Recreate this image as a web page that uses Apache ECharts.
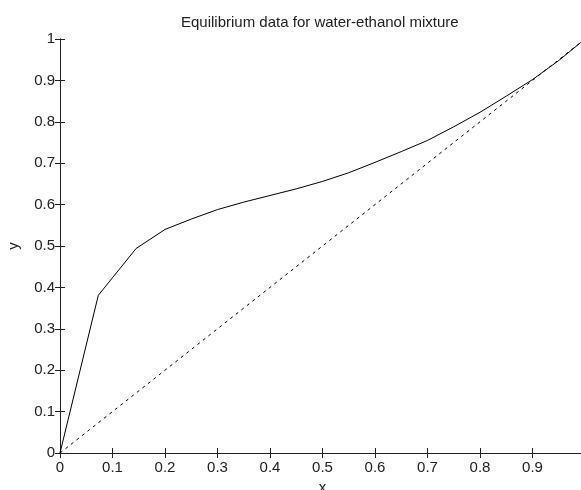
<!DOCTYPE html>
<html>
<head>
<meta charset="utf-8">
<script src="https://cdn.jsdelivr.net/npm/echarts@6/dist/echarts.min.js"></script>
<style>
  html, body { margin: 0; padding: 0; background: #fff; }
  #chart { width: 581px; height: 490px; }
</style>
</head>
<body>
<div id="chart"></div>
<script>
// liquid mole fraction x / vapour mole fraction y
var xLiquid = [0, 0.073, 0.145, 0.2, 0.25, 0.3, 0.35, 0.4, 0.45, 0.5, 0.55, 0.6, 0.65, 0.7, 0.75, 0.8, 0.85, 0.9, 0.95, 1];
var yVapour = [0, 0.381, 0.494, 0.54, 0.565, 0.588, 0.606, 0.622, 0.638, 0.656, 0.677, 0.702, 0.728, 0.755, 0.788, 0.823, 0.862, 0.902, 0.948, 1];
// 45 degree reference line
var diagX = [0, 1];
var diagY = [0, 1];
var xTicks = [0, 0.1, 0.2, 0.3, 0.4, 0.5, 0.6, 0.7, 0.8, 0.9, 1];
var yTicks = [0, 0.1, 0.2, 0.3, 0.4, 0.5, 0.6, 0.7, 0.8, 0.9, 1];

function pairs(xs, ys) {
    return xs.map(function (v, i) { return [v, ys[i]]; });
}

var labelFont = { fontFamily: 'Liberation Sans, Arial, sans-serif', fontSize: 15, color: '#222' };
var lineCol = '#222';

var myChart = echarts.init(document.getElementById('chart'));
var option = {
    animation: false,
    backgroundColor: '#fff',
    title: {
        text: 'Equilibrium data for water-ethanol mixture',
        left: 176,
        top: 10,
        textStyle: { fontFamily: 'Liberation Sans, Arial, sans-serif', fontSize: 15, fontWeight: 'normal', color: '#222' }
    },
    // plot box runs a little past the right edge, like the reference
    grid: { left: 60, top: 39, width: 525, height: 414, containLabel: false, outerBoundsMode: 'none' },
    xAxis: [
        {
            type: 'value', min: 0, max: 1, interval: 0.1,
            name: 'x', nameLocation: 'middle', nameGap: 27,
            nameTextStyle: labelFont,
            axisLine: { lineStyle: { color: lineCol } },
            axisTick: { inside: true, length: 5, lineStyle: { color: lineCol } },
            axisLabel: Object.assign({ margin: 7, formatter: function (v) { return xTicks.indexOf(v) >= 0 ? String(v) : ''; } }, labelFont),
            splitLine: { show: false }
        },
        {
            type: 'value', position: 'top', min: 0, max: 1, interval: 0.1,
            axisLine: { lineStyle: { color: lineCol } },
            axisTick: { inside: true, length: 5, lineStyle: { color: lineCol } },
            axisLabel: { show: false },
            splitLine: { show: false }
        }
    ],
    yAxis: [
        {
            type: 'value', min: 0, max: 1, interval: 0.1,
            name: 'y', nameLocation: 'middle', nameGap: 39,
            nameTextStyle: labelFont,
            axisLine: { lineStyle: { color: lineCol } },
            axisTick: { inside: true, length: 5, lineStyle: { color: lineCol } },
            axisLabel: Object.assign({ margin: 5, formatter: function (v) { return yTicks.indexOf(v) >= 0 ? String(v) : ''; } }, labelFont),
            splitLine: { show: false }
        },
        {
            type: 'value', position: 'right', min: 0, max: 1, interval: 0.1,
            axisLine: { lineStyle: { color: lineCol } },
            axisTick: { inside: true, length: 5, lineStyle: { color: lineCol } },
            axisLabel: { show: false },
            splitLine: { show: false }
        }
    ],
    series: [
        {
            name: 'equilibrium',
            type: 'line',
            data: pairs(xLiquid, yVapour),
            showSymbol: false,
            symbol: 'none',
            lineStyle: { color: '#000', width: 1 }
        },
        {
            name: 'y = x',
            type: 'line',
            data: pairs(diagX, diagY),
            showSymbol: false,
            symbol: 'none',
            lineStyle: { color: '#000', width: 1, type: [3, 4] }
        }
    ]
};
myChart.setOption(option);
</script>
</body>
</html>
